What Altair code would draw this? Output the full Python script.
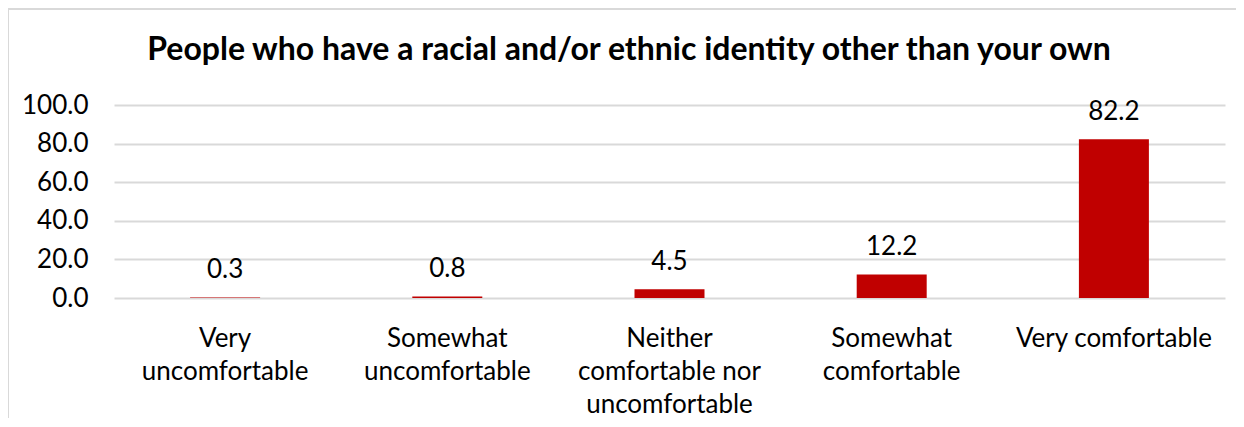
import altair as alt
import pandas as pd

categories = [
    "Very uncomfortable",
    "Somewhat uncomfortable",
    "Neither comfortable nor uncomfortable",
    "Somewhat comfortable",
    "Very comfortable",
]
label_lines = [
    ["Very", "uncomfortable"],
    ["Somewhat", "uncomfortable"],
    ["Neither", "comfortable nor", "uncomfortable"],
    ["Somewhat", "comfortable"],
    ["Very comfortable"],
]
values = [0.3, 0.8, 4.5, 12.2, 82.2]
y_ticks = [0, 20, 40, 60, 80, 100]
title_text = "People who have a racial and/or ethnic identity other than your own"

df = pd.DataFrame({"category": categories, "value": values})

# build multi-line label expression
expr = "datum.value"
for cat, lines in reversed(list(zip(categories, label_lines))):
    arr = "[" + ",".join("'" + l + "'" for l in lines) + "]"
    expr = f"datum.value == '{cat}' ? {arr} : ({expr})"

FONT = "Lato"
RED = "#C00000"
GRID = "#D9D9D9"
FS = 26

x_enc = alt.X(
    "category:N",
    sort=categories,
    scale=alt.Scale(paddingInner=0.685, paddingOuter=0.3425),
    axis=alt.Axis(
        title=None,
        labelAngle=0,
        labelExpr=expr,
        labelFont=FONT,
        labelFontSize=FS,
        labelColor="#000000",
        labelLineHeight=33,
        labelPadding=27,
        labelBaseline="top",
        labelOverlap=False,
        ticks=False,
        domain=False,
        labelLimit=400,
    ),
)
y_enc = alt.Y(
    "value:Q",
    scale=alt.Scale(domain=[0, 100], nice=False),
    axis=alt.Axis(
        title=None,
        values=y_ticks,
        format=".1f",
        labelFont=FONT,
        labelFontSize=FS,
        labelColor="#000000",
        labelPadding=26,
        labelOverlap=False,
        ticks=False,
        domain=False,
        gridColor=GRID,
        gridWidth=2,
    ),
)

base = alt.Chart(df)
one = pd.DataFrame({"a": [0]})

border = alt.Chart(one).mark_rect(
    fill=None, stroke=GRID, strokeWidth=2, clip=False
).encode(
    x=alt.value(-106), x2=alt.value(1160), y=alt.value(-96), y2=alt.value(360)
)

title = alt.Chart(one).mark_text(
    font=FONT, fontSize=32, fontWeight="bold", color="#000000",
    align="center", baseline="middle", clip=False
).encode(x=alt.value(515), y=alt.value(-55), text=alt.value(title_text))

bars = base.mark_bar(color=RED).encode(x=x_enc, y=y_enc)
texts = base.mark_text(
    font=FONT, fontSize=FS, color="#000000", baseline="middle", dy=-27
).encode(x=x_enc, y=y_enc, text=alt.Text("value:Q", format=".1f"))

chart = alt.layer(border, title, bars, texts).properties(
    width=1111,
    height=193,
    autosize=alt.AutoSizeParams(type="none"),
    padding={"left": 106, "top": 97, "right": 11, "bottom": 120},
).configure(background="white").configure_view(stroke=None)

chart.save("out.html", embed_options={"renderer": "svg", "actions": False})
